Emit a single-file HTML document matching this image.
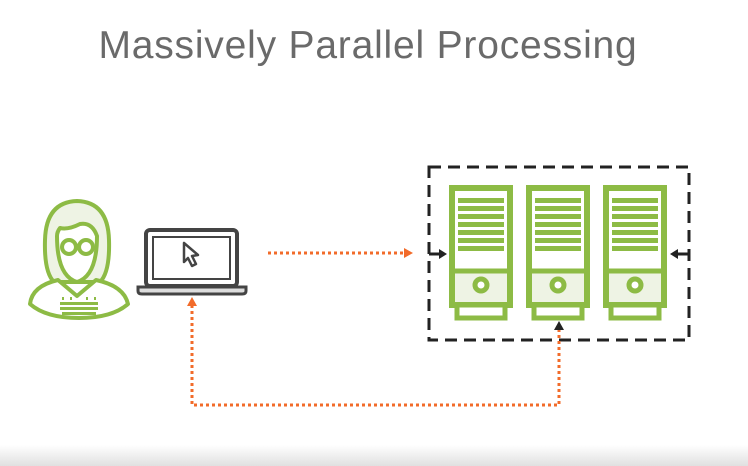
<!DOCTYPE html>
<html><head><style>
html,body{margin:0;padding:0;background:#fff;}
body{width:748px;height:466px;position:relative;overflow:hidden;}
.t{position:absolute;left:0;width:736px;top:24px;text-align:center;font-family:"Liberation Sans",sans-serif;font-size:39px;font-weight:300;color:#6a6a6a;letter-spacing:0.8px;}
.band{position:absolute;left:0;top:445px;width:748px;height:21px;background:linear-gradient(#fff,#e0e0e0);}
</style></head><body>
<div class="t">Massively Parallel Processing</div>
<div class="band"></div>
<svg width="748" height="466" style="position:absolute;left:0;top:0">
<defs>
<g id="srv">
<rect x="3" y="3" width="58" height="117" fill="#eef3e4" stroke="#8dbb45" stroke-width="6"/>
<rect x="6" y="6" width="52" height="80" fill="#fff"/>
<line x1="3" y1="86" x2="61" y2="86" stroke="#8dbb45" stroke-width="5"/>
<g fill="#8dbb45">
<rect x="9" y="13" width="46" height="5"/><rect x="9" y="21" width="46" height="5"/><rect x="9" y="29" width="46" height="5"/><rect x="9" y="37" width="46" height="5"/><rect x="9" y="45" width="46" height="5"/><rect x="9" y="53" width="46" height="5"/><rect x="9" y="61" width="46" height="5"/>
</g>
<circle cx="32" cy="100" r="6" fill="#fff" stroke="#8dbb45" stroke-width="5"/>
<rect x="8" y="120" width="48" height="13" fill="#fff" stroke="#8dbb45" stroke-width="5"/>
</g>
</defs>
<rect x="429" y="167" width="260" height="173" fill="none" stroke="#222" stroke-width="3" stroke-dasharray="12,7"/>
<use href="#srv" x="449" y="185"/>
<use href="#srv" x="526" y="185"/>
<use href="#srv" x="603" y="185"/>
<line x1="429" y1="254" x2="441" y2="254" stroke="#222" stroke-width="3"/>
<polygon points="447,254 439,249 439,259" fill="#222"/>
<line x1="688" y1="254" x2="676" y2="254" stroke="#222" stroke-width="3"/>
<polygon points="670,254 678,249 678,259" fill="#222"/>
<g stroke="#f26b2a" stroke-width="3" stroke-dasharray="3,3" fill="none">
<line x1="268" y1="253" x2="405" y2="253"/>
<polyline points="192,305 192,405 559,405 559,330"/>
</g>
<polygon points="413,253 404,248 404,258" fill="#f26b2a"/>
<polygon points="192,297 187,306 197,306" fill="#f26b2a"/>
<polygon points="559,321 554,330 564,330" fill="#222"/>
<rect x="146" y="230" width="91" height="56" rx="4" fill="#fff" stroke="#444" stroke-width="4"/>
<rect x="153" y="237" width="77" height="42" fill="#fff" stroke="#444" stroke-width="2"/>
<path d="M138,287 H246 V291 Q246,294 242,294 H142 Q138,294 138,291 Z" fill="#ddd" stroke="#444" stroke-width="3"/>
<path d="M184,243 L184,262 L188,258 L192,266 L196,264 L192,256 L198,255 Z" fill="#fff" stroke="#444" stroke-width="2.5" stroke-linejoin="round"/>
<g stroke="#8dbb45" stroke-width="4" fill="none" stroke-linejoin="round">
<path d="M54,282 Q44,272 45,240 Q46,202 77,201 Q108,202 109,240 Q110,272 100,282 Z" fill="#eef3e4"/>
<path d="M30,304 Q32,286 58,280 L77,296 L96,280 Q124,286 128,304 Q112,318 79,318 Q46,318 30,304 Z" fill="#fff"/>
<path d="M57,236 Q57,276 77,282 Q97,276 97,236 Q92,222 80,224 Q68,230 60,228 Q57,232 57,236 Z" fill="#fff"/>
<circle cx="69" cy="247" r="7" fill="#fff"/>
<circle cx="86" cy="247" r="7" fill="#fff"/>
</g>
<g fill="#8dbb45">
<rect x="62" y="297" width="2" height="3"/><rect x="70" y="297" width="2" height="3"/><rect x="86" y="297" width="2" height="3"/><rect x="94" y="297" width="2" height="3"/>
<rect x="60" y="302" width="38" height="3"/><rect x="60" y="307" width="38" height="3"/><rect x="62" y="312" width="34" height="3"/>
</g>
</svg>
</body></html>
